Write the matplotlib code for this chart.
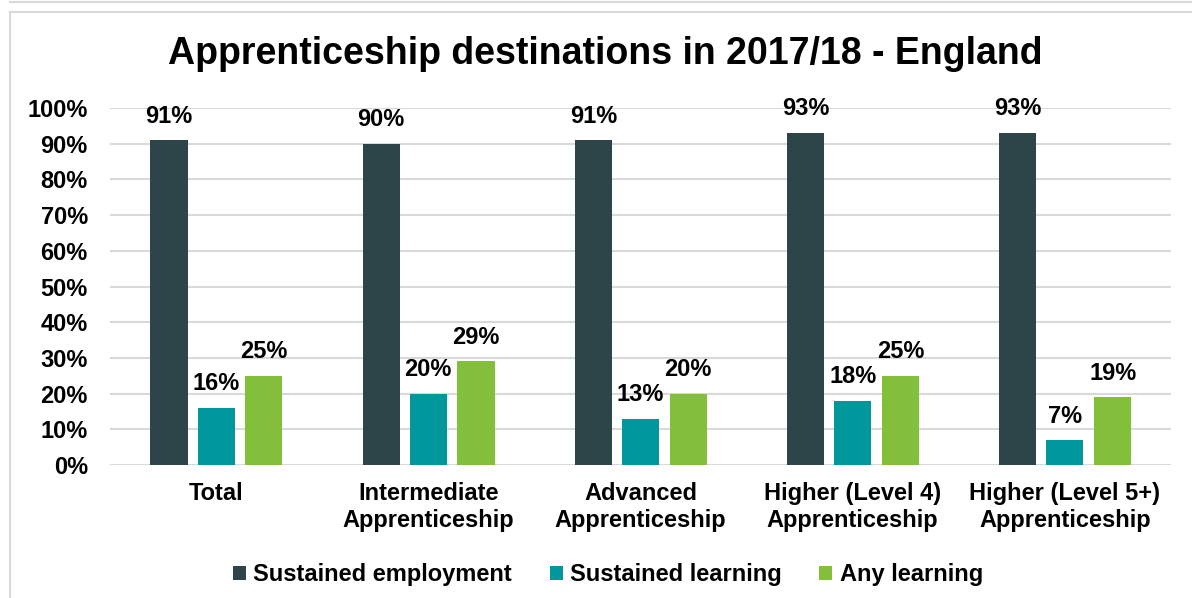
import numpy as np
import matplotlib.pyplot as plt
from matplotlib.patches import Rectangle
from matplotlib.lines import Line2D

plt.rcParams['font.family'] = ['Liberation Sans', 'DejaVu Sans']
plt.rcParams['font.weight'] = 'bold'

categories = ['Total', 'Intermediate\nApprenticeship', 'Advanced\nApprenticeship',
              'Higher (Level 4)\nApprenticeship', 'Higher (Level 5+)\nApprenticeship']
sustained_employment = [91, 90, 91, 93, 93]
sustained_learning = [16, 20, 13, 18, 7]
any_learning = [25, 29, 20, 25, 19]

series = [
    ('Sustained employment', sustained_employment, '#2d4448'),
    ('Sustained learning', sustained_learning, '#00979d'),
    ('Any learning', any_learning, '#83bf3b'),
]

W, H = 1192, 598
fs = 17
fig = plt.figure(figsize=(W / 100, H / 100), dpi=100)
ax = fig.add_axes([110 / W, 1 - 465 / H, 1061 / W, 357 / H])

x = np.arange(len(categories))
width = 0.175
offsets = [-0.222, 0.0, 0.225]

handles = []
for (name, vals, col), off in zip(series, offsets):
    bars = ax.bar(x + off, vals, width, color=col, zorder=3, label=name)
    for b, v in zip(bars, vals):
        ax.annotate(f'{v}%', (b.get_x() + b.get_width() / 2, v),
                    xytext=(0, 24), textcoords='offset pixels',
                    ha='center', va='center', fontsize=fs, fontweight='bold')
    handles.append(bars)

ax.set_xlim(-0.5, len(categories) - 0.5)
ax.set_ylim(0, 100)
ax.set_yticks(np.arange(0, 101, 10))
ax.set_yticklabels([f'{t}%' for t in range(0, 101, 10)])
ax.set_xticks(x)
ax.set_xticklabels(categories, linespacing=1.22)
ax.tick_params(axis='both', length=0, labelsize=fs)
ax.tick_params(axis='y', pad=16)
ax.tick_params(axis='x', pad=12)
ax.grid(axis='y', color='#d9d9d9', linewidth=1.5, zorder=0)
for s in ax.spines.values():
    s.set_visible(False)

fig.text(605 / W, 1 - 54 / H, 'Apprenticeship destinations in 2017/18 - England',
         ha='center', va='center', fontsize=27, fontweight='bold')

fig.legend(handles=handles, loc='center', bbox_to_anchor=(608 / W, 1 - 575 / H),
           ncol=3, frameon=False, fontsize=fs, handlelength=0.55, handleheight=0.55,
           handletextpad=0.3, columnspacing=1.6)

# chart frame
fig.patches.append(Rectangle((10 / W, -0.05), 1.1, 1 - 12 / H + 0.05,
                             transform=fig.transFigure, fill=False,
                             edgecolor='#d9d9d9', linewidth=1.5))
fig.lines.append(Line2D([10 / W, 1], [1 - 2 / H] * 2, transform=fig.transFigure,
                        color='#d9d9d9', linewidth=1.5))

fig.savefig('out.png', dpi=100)
